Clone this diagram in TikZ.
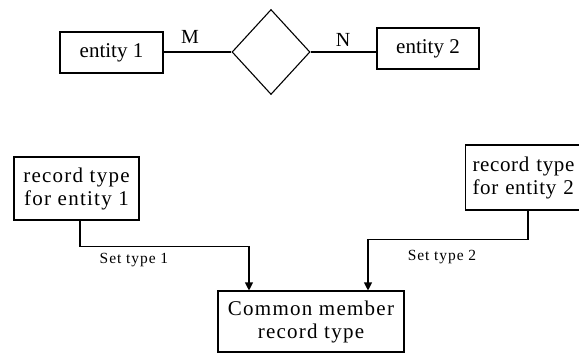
\documentclass[tikz,border=0pt]{standalone}
\usepackage{fontspec}
\setmainfont{Liberation Serif}
\newfontfamily\widefont[LetterSpace=6]{Liberation Serif}
\newfontfamily\midfont[LetterSpace=3]{Liberation Serif}
\usetikzlibrary{shapes.geometric,arrows.meta}
\begin{document}
\begin{tikzpicture}[x=1pt,y=-1pt,
  line width=1.1pt,
  box/.style={draw,rectangle,inner sep=0pt,align=center,
    font=\fontsize{21}{23}\selectfont},
  widebox/.style={box,font=\widefont\fontsize{21}{23}\selectfont},
  rel/.style={draw,diamond,inner sep=0pt,minimum width=78pt,minimum height=85pt},
  card/.style={font=\fontsize{20}{22}\selectfont},
  setlabel/.style={font=\widefont\fontsize{15.5}{17}\selectfont},
  arr/.style={-{Triangle[width=8pt,length=8pt]}}]
\useasboundingbox (0,0) rectangle (579,354);
\clip (0,0) rectangle (579,354);

% E-R part: two entities joined by an M:N relationship
\node[box,minimum width=103pt,minimum height=41pt] (e1) at (111.5,52.5) {entity 1};
\node[rel] (r) at (271,52) {};
\node[box,minimum width=102pt,minimum height=41pt] (e2) at (428,48.5) {entity 2};
\draw (e1.east |- r.west) -- (r.west);
\draw (r.east) -- (r.east -| e2.west);
\node[card] (m) at (190,37) {M};
\node[card] (n) at (343,40) {N};

% network part: two owner record types and a shared member record type
\node[widebox,minimum width=125pt,minimum height=63pt] (o1) at (76.5,188.5) {record type\\for entity 1};
\node[box,font=\midfont\fontsize{21}{23}\selectfont,align=left,text width=110pt,
  inner xsep=7pt,minimum height=65pt,anchor=west] (o2) at (465,177.5) {record type\\for entity 2};
\node[widebox,minimum width=186pt,minimum height=61pt] (cm) at (311,321.5) {Common member\\record type};

\draw[arr] ([xshift=3.5pt]o1.south) -- ++(0,26) -| ([xshift=-62pt]cm.north);
\draw[arr] (o2.south -| 528,0) -- ++(0,29) -| ([xshift=57pt]cm.north);
\node[setlabel] (s1) at (134,260) {Set type 1};
\node[setlabel] (s2) at (442,257) {Set type 2};
\end{tikzpicture}
\end{document}
